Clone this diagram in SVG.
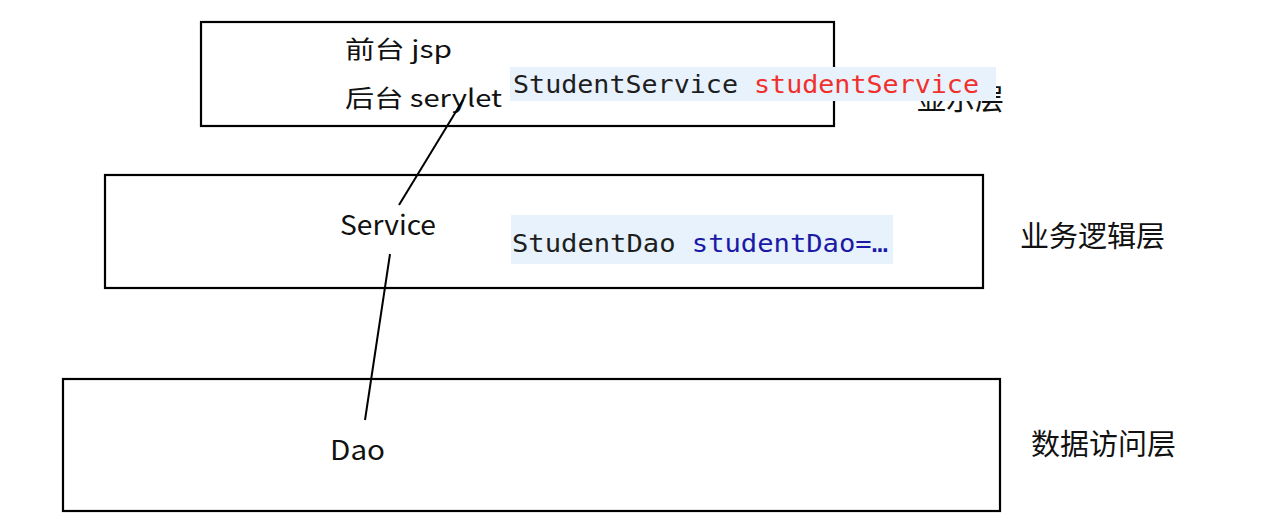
<svg xmlns="http://www.w3.org/2000/svg" width="1262" height="530" viewBox="0 0 1262 530">
<style>
.box{fill:none;stroke:#000;stroke-width:2.2}
.t{font-family:"Noto Sans CJK SC","Noto Sans",sans-serif;fill:#111}
.code{font-family:"DejaVu Sans Mono","Liberation Mono",monospace;font-size:24px}
.hl{fill:#e8f2fd}
.conn{stroke:#000;stroke-width:2;fill:none}
</style>
<rect width="1262" height="530" fill="#fff"/>
<g id="layer-label-display">
<text class="t" x="917" y="110" font-size="29">显示层</text>
</g>
<g id="node-presentation">
<rect class="box" x="201" y="22" width="633" height="104"/>
<text class="t" x="345" y="58" font-size="24" textLength="107" lengthAdjust="spacingAndGlyphs">前台 jsp</text>
<text class="t" x="345" y="107" font-size="24" textLength="157" lengthAdjust="spacingAndGlyphs">后台 serylet</text>
<rect class="hl" x="510" y="67" width="486" height="34"/>
<text class="code" x="513" y="93" textLength="466" lengthAdjust="spacingAndGlyphs"><tspan fill="#1e1e1e">StudentService </tspan><tspan fill="#f0302c">studentService</tspan></text>
</g>
<g id="node-service">
<rect class="box" x="105" y="175" width="878" height="113"/>
<text class="t" x="340" y="235" font-size="27" textLength="96" lengthAdjust="spacingAndGlyphs">Service</text>
<rect class="hl" x="511" y="215" width="382" height="49"/>
<text class="code" x="512" y="252" textLength="376" lengthAdjust="spacingAndGlyphs"><tspan fill="#1e1e1e">StudentDao </tspan><tspan fill="#1a1aa6">studentDao=…</tspan></text>
<text class="t" x="1020" y="247" font-size="29">业务逻辑层</text>
</g>
<g id="node-dao">
<rect class="box" x="63" y="379" width="937" height="132"/>
<text class="t" x="330" y="460" font-size="27" textLength="55" lengthAdjust="spacingAndGlyphs">Dao</text>
<text class="t" x="1031" y="455" font-size="29">数据访问层</text>
</g>
<g id="connectors">
<line class="conn" x1="463" y1="100" x2="399" y2="205"/>
<line class="conn" x1="390" y1="254" x2="365" y2="420"/>
</g>
</svg>
